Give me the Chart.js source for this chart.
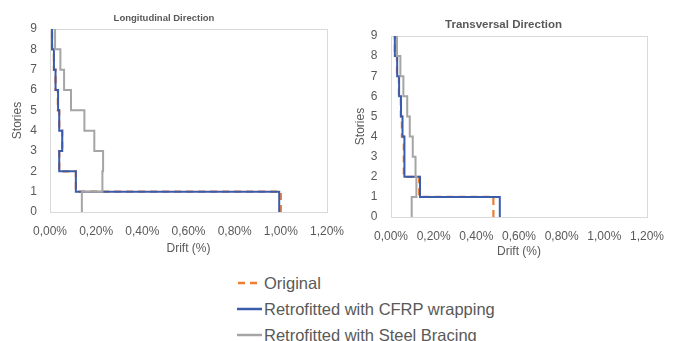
<!DOCTYPE html>
<html><head><meta charset="utf-8">
<script src="https://cdn.jsdelivr.net/npm/chart.js@4"></script>
<style>
html,body{margin:0;padding:0;background:#fff;width:676px;height:341px;overflow:hidden;font-family:"Liberation Sans",Arial,sans-serif;}
#c1{position:absolute;left:0;top:0;}
#c2{position:absolute;left:350px;top:0;}
#legend{position:absolute;left:237px;top:270px;color:#595959;font-size:16.5px;}
.row{height:26px;display:flex;align-items:center;white-space:nowrap;}
.row svg{margin-right:2px;flex:none;}
</style></head><body>
<canvas id="c1" width="356" height="262"></canvas>
<canvas id="c2" width="326" height="265"></canvas>
<div id="legend"></div>
<script>
// ---- data ----
const seriesNames = ['Original', 'Retrofitted with CFRP wrapping', 'Retrofitted with Steel Bracing'];
const stories = [1, 2, 3, 4, 5, 6, 7, 8, 9];
const longOriginal = [1.000, 0.112, 0.040, 0.053, 0.040, 0.034, 0.024, 0.017, 0.009];
const longCFRP     = [0.993, 0.112, 0.040, 0.053, 0.040, 0.035, 0.024, 0.017, 0.009];
const longSteel    = [0.138, 0.227, 0.230, 0.192, 0.149, 0.091, 0.061, 0.045, 0.022];
const transOriginal = [0.480, 0.132, 0.060, 0.060, 0.051, 0.046, 0.037, 0.028, 0.018];
const transCFRP     = [0.510, 0.136, 0.065, 0.062, 0.054, 0.047, 0.038, 0.029, 0.018];
const transSteel    = [0.097, 0.119, 0.115, 0.102, 0.088, 0.076, 0.058, 0.044, 0.028];
const xTickValues = [0, 0.2, 0.4, 0.6, 0.8, 1.0, 1.2];
const xTickLabels = ['0,00%', '0,20%', '0,40%', '0,60%', '0,80%', '1,00%', '1,20%'];
const yTickValues = [0, 1, 2, 3, 4, 5, 6, 7, 8, 9];
const yTickLabels = ['0', '1', '2', '3', '4', '5', '6', '7', '8', '9'];

// ---- styling ----
const FONT = '"Liberation Sans", Arial, sans-serif';
const TXT = '#595959';
const colors = ['#ED7D31', '#3A5CAD', '#A5A5A5'];
Chart.defaults.font.family = FONT;
Chart.defaults.color = TXT;

function steps(drifts) {
  const pts = [];
  drifts.forEach((d, k) => {
    pts.push({x: d, y: stories[k] - 1});
    pts.push({x: d, y: stories[k]});
  });
  return pts;
}

const frame = {
  id: 'frame',
  beforeDatasetsDraw(chart) {
    const {ctx, chartArea: a} = chart;
    ctx.save();
    ctx.strokeStyle = '#D9D9D9';
    ctx.lineWidth = 1;
    ctx.strokeRect(Math.round(a.left) + 0.5, Math.round(a.top) + 0.5,
                   Math.round(a.right - a.left), Math.round(a.bottom - a.top));
    ctx.restore();
  }
};

function makeChart(id, title, series, L) {
  const datasets = series.map((vals, i) => ({
    label: seriesNames[i],
    data: steps(vals),
    showLine: true,
    borderColor: colors[i],
    backgroundColor: colors[i],
    borderWidth: i === 0 ? 2.2 : 2,
    borderDash: i === 0 ? [7, 5] : [],
    pointRadius: 0,
    fill: false,
    tension: 0,
    order: 3 - i
  }));
  return new Chart(document.getElementById(id), {
    type: 'scatter',
    data: {datasets},
    plugins: [frame],
    options: {
      responsive: false,
      animation: false,
      devicePixelRatio: 1,
      layout: {padding: {left: 0, right: L.padRight, top: 0, bottom: 0}},
      plugins: {
        legend: {display: false},
        tooltip: {enabled: false},
        title: {
          display: true, text: title, color: TXT,
          font: {size: L.titleSize, weight: 'bold', lineHeight: 1.2},
          padding: {top: L.titleTop, bottom: L.titleBottom}
        }
      },
      scales: {
        x: {
          type: 'linear', min: 0, max: 1.2,
          afterBuildTicks: s => { s.ticks = xTickValues.map(v => ({value: v})); },
          afterFit: s => { s.height = L.xHeight; },
          ticks: {callback: (v, i) => xTickLabels[i], color: TXT, font: {size: 12}, padding: L.xTickPad, maxRotation: 0, autoSkip: false},
          grid: {display: false, drawTicks: false},
          border: {display: false},
          title: {display: true, text: 'Drift (%)', color: TXT, font: {size: 12, lineHeight: 1.2}, padding: {top: 0, bottom: L.xTitleBottom}}
        },
        y: {
          type: 'linear', min: 0, max: 9,
          afterBuildTicks: s => { s.ticks = yTickValues.map(v => ({value: v})); },
          afterFit: s => { s.width = L.yWidth; },
          ticks: {callback: (v, i) => yTickLabels[i], color: TXT, font: {size: 12}, padding: L.yTickPad, autoSkip: false},
          grid: {display: false, drawTicks: false},
          border: {display: false},
          title: {display: true, text: 'Stories', color: TXT, font: {size: 12, lineHeight: 1.2}, padding: {top: L.yTitleTop, bottom: 0}}
        }
      }
    }
  });
}

makeChart('c1', 'Longitudinal Direction', [longOriginal, longCFRP, longSteel], {
  padRight: 28, titleSize: 9.5, titleTop: 12.3, titleBottom: 5.3,
  xHeight: 50, xTickPad: 12, xTitleBottom: 5.8,
  yWidth: 50, yTickPad: 13, yTitleTop: 10.8
});
makeChart('c2', 'Transversal Direction', [transOriginal, transCFRP, transSteel], {
  padRight: 19, titleSize: 11.5, titleTop: 18.1, titleBottom: 4.1,
  xHeight: 48, xTickPad: 12, xTitleBottom: 5.8,
  yWidth: 41, yTickPad: 13.5, yTitleTop: 3.8
});

// ---- legend ----
const legend = document.getElementById('legend');
seriesNames.forEach((name, i) => {
  const row = document.createElement('div');
  row.className = 'row';
  const dash = i === 0 ? ' stroke-dasharray="7 5" stroke-dashoffset="-1"' : '';
  row.innerHTML = '<svg width="25" height="4"><line x1="0" y1="2" x2="25" y2="2" stroke="' + colors[i] +
    '" stroke-width="2.5"' + dash + '/></svg><span></span>';
  row.querySelector('span').textContent = name;
  legend.appendChild(row);
});
</script>
</body></html>
